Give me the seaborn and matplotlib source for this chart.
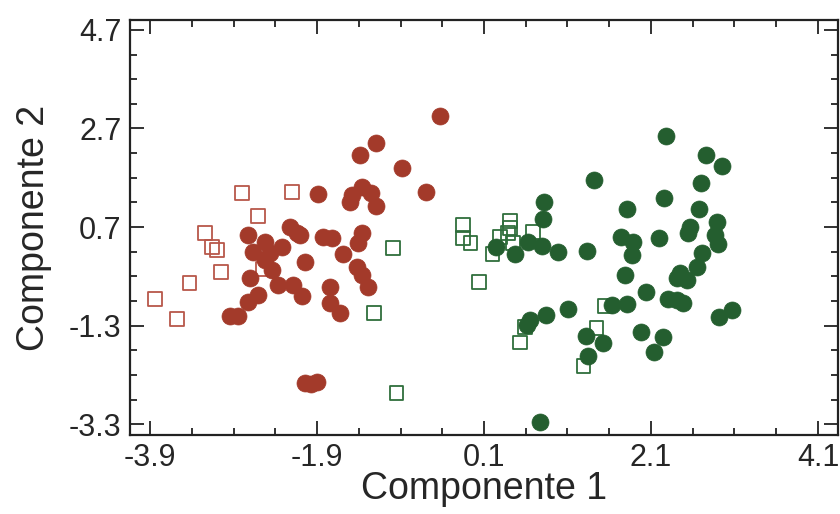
import numpy as np
import pandas as pd
import matplotlib
matplotlib.use("Agg")
import matplotlib.pyplot as plt
import seaborn as sns
from matplotlib.ticker import FixedLocator

# ---- data ----
red_fill_x = [-0.43, -1.19, -1.39, -0.88, -1.89, -1.48, -1.36, -1.25, -1.19, -1.50,
              -0.59, -2.10, -1.83, -1.72, -1.36, -1.41, -1.59, -2.04, -2.22, -2.14,
              -2.73, -2.52, -2.32, -2.67, -2.46, -2.52, -2.44, -2.70, -2.37, -2.19,
              -2.08, -2.61, -2.73, -2.85, -2.94, -1.74, -1.74, -1.62, -1.42, -1.36,
              -1.29, -2.04, -1.90, -1.97]
red_fill_y = [2.95, 2.41, 2.16, 1.90, 1.37, 1.35, 1.51, 1.39, 1.13, 1.21,
              1.41, 0.54, 0.50, 0.48, 0.58, 0.38, 0.15, -0.01, 0.70, 0.58,
              0.54, 0.40, 0.29, 0.19, 0.17, 0.03, -0.17, -0.34, -0.48, -0.48,
              -0.70, -0.68, -0.82, -1.11, -1.11, -0.52, -0.84, -1.05, -0.11, -0.27,
              -0.52, -2.47, -2.45, -2.49]

red_open_x = [-2.80, -2.20, -2.61, -3.24, -3.16, -3.10, -3.05, -3.43, -3.84, -3.58, -2.55]
red_open_y = [1.39, 1.41, 0.92, 0.58, 0.29, 0.23, -0.21, -0.44, -0.76, -1.17, -0.15]

green_fill_x = [2.28, 2.76, 2.95, 2.70, 1.42, 0.82, 0.81, 1.81, 2.26, 2.67,
                2.57, 2.54, 2.89, 2.87, 2.90, 2.20, 1.74, 1.88, 1.87, 2.71,
                1.33, 0.99, 0.79, 0.63, 0.47, 0.24, 2.65, 2.45, 2.53, 2.41,
                1.79, 2.04, 2.30, 2.48, 2.41, 1.81, 1.63, 3.07, 2.91, 1.98,
                2.24, 2.14, 1.53, 1.35, 1.32, 1.11, 0.84, 0.65, 0.62, 0.77]
green_fill_y = [2.55, 2.16, 1.94, 1.59, 1.65, 1.21, 0.86, 1.07, 1.29, 1.07,
                0.70, 0.58, 0.80, 0.54, 0.35, 0.48, 0.50, 0.40, 0.13, 0.17,
                0.21, 0.19, 0.31, 0.40, 0.15, 0.29, -0.11, -0.23, -0.38, -0.34,
                -0.27, -0.62, -0.76, -0.84, -0.78, -0.86, -0.88, -0.99, -1.13, -1.43,
                -1.53, -1.84, -1.66, -1.92, -1.51, -0.97, -1.09, -1.19, -1.29, -3.26]

green_open_x = [-0.15, -0.15, -0.06, 0.41, 0.41, 0.39, 0.29, 0.69, 0.45, 0.20,
                0.04, 1.55, 1.45, 0.59, 0.53, 1.29, -0.99, -1.22, -0.95]
green_open_y = [0.74, 0.48, 0.38, 0.82, 0.68, 0.58, 0.50, 0.60, 0.38, 0.15,
                -0.42, -0.90, -1.35, -1.33, -1.64, -2.12, 0.27, -1.05, -2.67]

x_ticks = [-3.9, -1.9, 0.1, 2.1, 4.1]
y_ticks = [-3.3, -1.3, 0.7, 2.7, 4.7]
x_label = "Componente 1"
y_label = "Componente 2"

RED = "#A33A2A"
RED_OPEN = "#B8574A"
GREEN = "#245E2F"
GREEN_OPEN = "#2F6E3C"

sns.set_style("ticks")
plt.rcParams["font.family"] = ["Liberation Sans", "DejaVu Sans"]

fig = plt.figure(figsize=(8.4, 5.14), dpi=100)
ax = fig.add_axes([130 / 840, 1 - 435 / 514, (838 - 130) / 840, (435 - 20) / 514])

sns.scatterplot(x=red_open_x, y=red_open_y, ax=ax, marker="s", s=95,
                color="none", edgecolor=RED_OPEN, linewidth=1.3, zorder=2)
sns.scatterplot(x=green_open_x, y=green_open_y, ax=ax, marker="s", s=95,
                color="none", edgecolor=GREEN_OPEN, linewidth=1.3, zorder=2)
sns.scatterplot(x=red_fill_x, y=red_fill_y, ax=ax, marker="o", s=150,
                color=RED, edgecolor=RED, linewidth=0.5, zorder=3)
sns.scatterplot(x=green_fill_x, y=green_fill_y, ax=ax, marker="o", s=150,
                color=GREEN, edgecolor=GREEN, linewidth=0.5, zorder=3)

ax.set_xlim(-4.14, 4.34)
ax.set_ylim(-3.52, 4.90)
ax.xaxis.set_major_locator(FixedLocator(x_ticks))
ax.yaxis.set_major_locator(FixedLocator(y_ticks))
ax.set_xticklabels([f"{v:.1f}" for v in x_ticks])
ax.set_yticklabels([f"{v:.1f}" for v in y_ticks])
ax.xaxis.set_minor_locator(FixedLocator(np.arange(-3.9, 4.35, 0.5)))
ax.yaxis.set_minor_locator(FixedLocator(np.arange(-3.3, 4.75, 0.5)))

ax.tick_params(which="both", direction="in", top=True, right=True,
               width=1.3, color="#222222", labelsize=22, pad=6)
ax.tick_params(which="major", length=10)
ax.tick_params(which="minor", length=5)
for sp in ax.spines.values():
    sp.set_visible(True)
    sp.set_linewidth(1.6)
    sp.set_color("#222222")

ax.set_xlabel(x_label, fontsize=27, labelpad=-2)
ax.set_ylabel(y_label, fontsize=27, labelpad=12)

fig.savefig("out.png", dpi=100)
